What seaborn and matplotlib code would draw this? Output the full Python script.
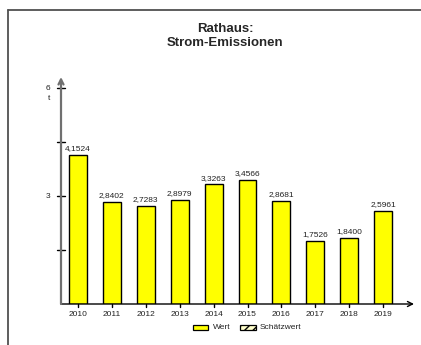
import matplotlib
matplotlib.use("Agg")
import matplotlib.pyplot as plt
import seaborn as sns
import pandas as pd
from matplotlib.lines import Line2D
from matplotlib.patches import Rectangle

years = ["2010", "2011", "2012", "2013", "2014", "2015", "2016", "2017", "2018", "2019"]
values = [4.1524, 2.8402, 2.7283, 2.8979, 3.3263, 3.4566, 2.8681, 1.7526, 1.8400, 2.5961]
labels = ["4,1524", "2,8402", "2,7283", "2,8979", "3,3263", "3,4566", "2,8681", "1,7526", "1,8400", "2,5961"]
yticks = [1.5, 3, 4.5, 6]
ytick_labels = ["", "3", "", "6"]
title = "Rathaus:\nStrom-Emissionen"
unit = "t"
legend_labels = ["Wert", "Schätzwert"]

sns.set_style("white")
plt.rcParams["font.family"] = ["Liberation Sans", "DejaVu Sans"]

W, H = 421, 345
fig = plt.figure(figsize=(W / 100, H / 100), dpi=100)

# frame
fig.add_artist(Line2D([8 / W, 8 / W], [0, 1 - 10 / H], transform=fig.transFigure, color="#505050", lw=1.3))
fig.add_artist(Line2D([8 / W, 1], [1 - 10 / H, 1 - 10 / H], transform=fig.transFigure, color="#505050", lw=1.3))

left, right = 61 / W, 414 / W
bottom, top = 1 - 304 / H, 1 - 77 / H
ax = fig.add_axes([left, bottom, right - left, top - bottom])

df = pd.DataFrame({"year": years, "value": values})
sns.barplot(data=df, x="year", y="value", color="#ffff00", edgecolor="black",
            linewidth=1.0, width=0.53, saturation=1, ax=ax)

ax.set_xlim(-0.5, 9.91)
ax.set_ylim(0, (304 - 77) / 36)
for s in ax.spines.values():
    s.set_visible(False)
ax.set_xlabel("")
ax.set_ylabel("")
ax.set_yticks([])
ax.set_xticks([])

# axes arrows
ax.annotate("", xy=(1.0, 0), xytext=(0, 0), xycoords="axes fraction",
            arrowprops=dict(arrowstyle="->", color="black", lw=1.0, mutation_scale=9,
                            shrinkA=0, shrinkB=0))
ax.annotate("", xy=(0, 1.0), xytext=(0, 0), xycoords="axes fraction",
            arrowprops=dict(arrowstyle="->", color="#707070", lw=1.6, mutation_scale=9,
                            shrinkA=0, shrinkB=0))

# y ticks (crossing axis)
trans_y = ax.get_yaxis_transform()
for v, lab in zip(yticks, ytick_labels):
    ax.add_artist(Line2D([-0.012, 0.012], [v, v], transform=trans_y, color="black", lw=1.0, clip_on=False))
    if lab:
        ax.text(-0.03, v, lab, transform=trans_y, ha="right", va="center", fontsize=6, color="#222222")
ax.text(-0.03, 6 - 0.3, unit, transform=trans_y, ha="right", va="center", fontsize=6, color="#222222")

# x ticks and labels
trans_x = ax.get_xaxis_transform()
for i, y in enumerate(years):
    ax.add_artist(Line2D([i, i], [0, -0.015], transform=trans_x, color="black", lw=1.0, clip_on=False))
    ax.text(i, -0.03, y, transform=trans_x, ha="center", va="top", fontsize=6, color="#222222")

# value labels
for i, (v, lab) in enumerate(zip(values, labels)):
    ax.text(i, v + 0.07, lab, ha="center", va="bottom", fontsize=6, color="#222222")

# title
fig.text(225 / W, 1 - 36 / H, title, ha="center", va="center", fontsize=9.5, fontweight="bold",
         linespacing=1.25)

# legend
fig.add_artist(Rectangle((193 / W, 1 - 330 / H), 15 / W, 5 / H, transform=fig.transFigure,
                         facecolor="#ffff00", edgecolor="black", lw=0.9))
fig.text(213 / W, 1 - 327.5 / H, legend_labels[0], ha="left", va="center", fontsize=6, color="#222222")
fig.add_artist(Rectangle((240 / W, 1 - 330 / H), 16 / W, 5 / H, transform=fig.transFigure,
                         facecolor="#ffffcc", edgecolor="black", lw=0.9, hatch="////"))
fig.text(260 / W, 1 - 327.5 / H, legend_labels[1], ha="left", va="center", fontsize=6, color="#222222")

fig.savefig("out.png", dpi=100)
